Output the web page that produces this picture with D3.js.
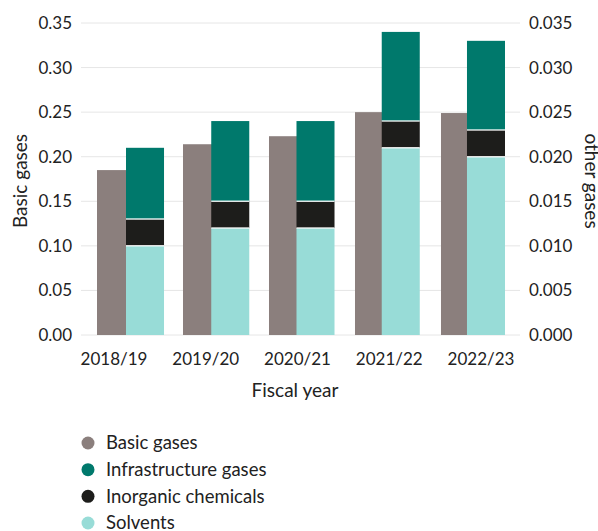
<!DOCTYPE html>
<html>
<head>
<meta charset="utf-8">
<script src="https://cdn.jsdelivr.net/npm/d3@7"></script>
<style>
  html, body { margin: 0; padding: 0; background: #fff; }
  svg { display: block; font-family: Lato, "Noto Sans", sans-serif; }
</style>
</head>
<body>
<svg id="chart" width="598" height="531"></svg>
<script>
const categories = ["2018/19", "2019/20", "2020/21", "2021/22", "2022/23"];
const basicGases = [0.185, 0.214, 0.223, 0.250, 0.249];
const solvents = [0.010, 0.012, 0.012, 0.021, 0.020];
const inorganicChemicals = [0.003, 0.003, 0.003, 0.003, 0.003];
const infrastructureGases = [0.008, 0.009, 0.009, 0.010, 0.010];
const leftTicks = [0, 0.05, 0.10, 0.15, 0.20, 0.25, 0.30, 0.35];
const rightTicks = [0, 0.005, 0.010, 0.015, 0.020, 0.025, 0.030, 0.035];
const legendItems = ["Basic gases", "Infrastructure gases", "Inorganic chemicals", "Solvents"];
const colors = {
  "Basic gases": "#8b7f7d",
  "Infrastructure gases": "#00796c",
  "Inorganic chemicals": "#1d1d1b",
  "Solvents": "#98dcd7"
};

const svg = d3.select("#chart");
const textColor = "#222222";
const plotLeft = 81, plotRight = 520, plotTop = 23, plotBottom = 335;

const yLeft = d3.scaleLinear().domain([0, 0.35]).range([plotBottom, plotTop]);
const yRight = d3.scaleLinear().domain([0, 0.035]).range([plotBottom, plotTop]);

const xBasic = d3.scaleBand().domain(categories).range([97, 479]).paddingInner(0.558).paddingOuter(0);
const xStack = d3.scaleBand().domain(categories).range([126, 505]).paddingInner(0.554).paddingOuter(0);
const xLabel = d3.scalePoint().domain(categories).range([113.5, 480.5]);

// gridlines
svg.append("g").selectAll("line").data(leftTicks).join("line")
  .attr("x1", plotLeft).attr("x2", plotRight)
  .attr("y1", d => yLeft(d)).attr("y2", d => yLeft(d))
  .attr("stroke", "#e6e6e6").attr("stroke-width", 1);

// left axis
const leftAxis = d3.axisLeft(yLeft).tickValues(leftTicks).tickSize(0).tickPadding(9).tickFormat(d3.format(".2f"));
const gl = svg.append("g").attr("transform", `translate(${plotLeft},0)`).call(leftAxis);
gl.select(".domain").remove();
gl.selectAll("text").attr("font-size", 17).attr("fill", textColor).attr("font-family", "Lato, sans-serif");

// right axis
const rightAxis = d3.axisRight(yRight).tickValues(rightTicks).tickSize(0).tickPadding(9).tickFormat(d3.format(".3f"));
const gr = svg.append("g").attr("transform", `translate(${plotRight},0)`).call(rightAxis);
gr.select(".domain").remove();
gr.selectAll("text").attr("font-size", 17).attr("fill", textColor).attr("font-family", "Lato, sans-serif");

// bottom axis
const bottomAxis = d3.axisBottom(xLabel).tickSize(0).tickPadding(18);
const gb = svg.append("g").attr("transform", `translate(0,${plotBottom})`).call(bottomAxis);
gb.select(".domain").remove();
gb.selectAll("text").attr("font-size", 17).attr("fill", textColor).attr("font-family", "Lato, sans-serif");

// basic gases bars
svg.append("g").selectAll("rect").data(categories).join("rect")
  .attr("x", d => xBasic(d))
  .attr("width", xBasic.bandwidth())
  .attr("y", (d, i) => yLeft(basicGases[i]))
  .attr("height", (d, i) => yLeft(0) - yLeft(basicGases[i]))
  .attr("fill", colors["Basic gases"]);

// stacked bars
const stackRows = categories.map((c, i) => ({
  cat: c,
  "Solvents": solvents[i],
  "Inorganic chemicals": inorganicChemicals[i],
  "Infrastructure gases": infrastructureGases[i]
}));
const stackKeys = ["Solvents", "Inorganic chemicals", "Infrastructure gases"];
const series = d3.stack().keys(stackKeys)(stackRows);

const gs = svg.append("g");
series.forEach(s => {
  gs.append("g").selectAll("rect").data(s).join("rect")
    .attr("x", d => xStack(d.data.cat))
    .attr("width", xStack.bandwidth())
    .attr("y", d => yRight(d[1]))
    .attr("height", d => yRight(d[0]) - yRight(d[1]))
    .attr("fill", colors[s.key]);
});
// separators between segments
series.slice(0, 2).forEach(s => {
  gs.append("g").selectAll("line").data(s).join("line")
    .attr("x1", d => xStack(d.data.cat))
    .attr("x2", d => xStack(d.data.cat) + xStack.bandwidth())
    .attr("y1", d => yRight(d[1]))
    .attr("y2", d => yRight(d[1]))
    .attr("stroke", "#ffffff").attr("stroke-width", 1.5).attr("stroke-opacity", 0.85);
});

// axis titles
svg.append("text")
  .attr("transform", `translate(27,181) rotate(-90)`)
  .attr("text-anchor", "middle")
  .attr("font-size", 19).attr("fill", textColor)
  .text("Basic gases");
svg.append("text")
  .attr("transform", `translate(585,181) rotate(90)`)
  .attr("text-anchor", "middle")
  .attr("font-size", 19).attr("fill", textColor)
  .text("other gases");
svg.append("text")
  .attr("x", 295).attr("y", 397)
  .attr("text-anchor", "middle")
  .attr("font-size", 19).attr("fill", textColor)
  .text("Fiscal year");

// legend
const lg = svg.append("g");
const legendY = d3.scalePoint().domain(legendItems).range([443, 523]);
lg.selectAll("circle").data(legendItems).join("circle")
  .attr("cx", 88).attr("cy", d => legendY(d)).attr("r", 6.5)
  .attr("fill", d => colors[d]);
lg.selectAll("text").data(legendItems).join("text")
  .attr("x", 106).attr("y", d => legendY(d)).attr("dy", "0.35em")
  .attr("font-size", 18.5).attr("fill", textColor)
  .text(d => d);
</script>
</body>
</html>
